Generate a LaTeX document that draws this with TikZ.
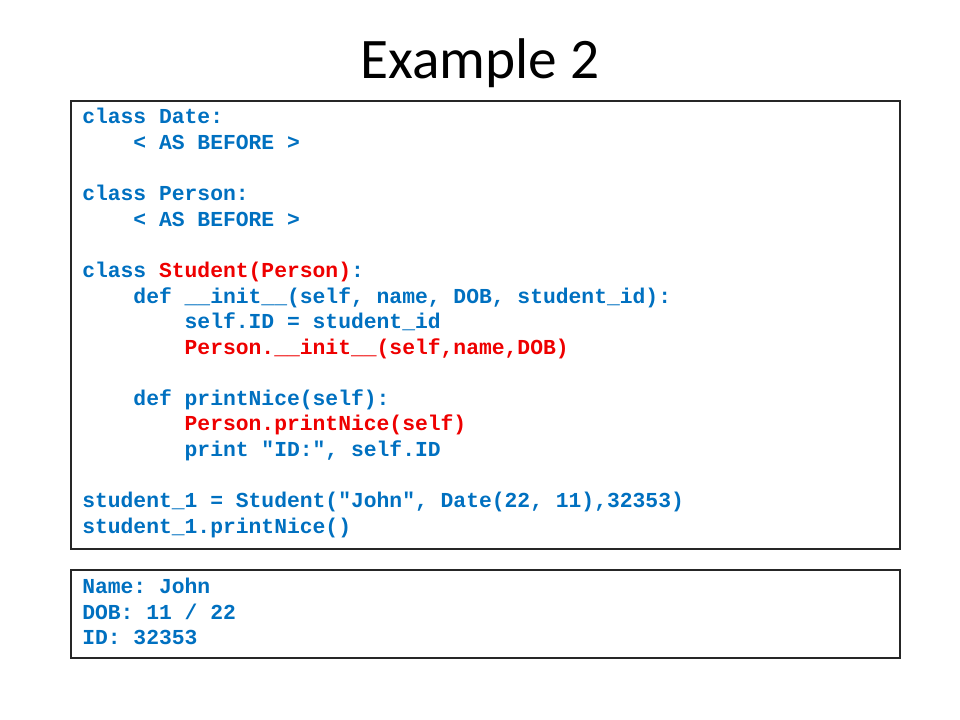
\documentclass[tikz,border=0pt]{standalone}
\usepackage{fontspec}
\setmainfont{Carlito}
\setmonofont{Liberation Mono}
\usetikzlibrary{positioning}
\definecolor{codeblue}{RGB}{0,112,192}
\definecolor{codered}{RGB}{238,0,0}
\tikzset{>=latex}
\tikzset{
	codeline/.style={anchor=base west, inner sep=0pt, text=codeblue, font=\fontsize{16pt}{19.2pt}\selectfont\ttfamily\bfseries},
	hl/.style={text=codered},
	box/.style={draw=black!85, line width=0.8pt}
}
\newcommand{\hot}[1]{{\color{codered}#1}}

\begin{document}
\begin{tikzpicture}[x=0.75pt, y=-0.75pt]
	
	\useasboundingbox (0,0) rectangle (960,720);
	
	\node[anchor=base, inner sep=0pt, font=\fontsize{43pt}{50pt}\selectfont](title) at (480,79) {Example 2};
	
	% Boxes
	
	\draw[box] (71,101) rectangle (900,549);
	\draw[box] (71,570) rectangle (900,658);
	
	% Code
	
	\node[codeline](classDate) at (82,124) {class Date:};
	
	\node[codeline](asBefore-1) at (133.2,149.6) {< AS BEFORE >};
	
	\node[codeline](classPerson) at (82,200.7) {class Person:};
	
	\node[codeline](asBefore-2) at (133.2,226.3) {< AS BEFORE >};
	
	\node[codeline](classStudent) at (82,277.4) {class \hot{Student(Person)}:};
	
	\node[codeline](defInit) at (133.2,303) {def \_\_init\_\_(self, name, DOB, student\_id):};
	
	\node[codeline](selfID) at (184.4,328.6) {self.ID = student\_id};
	
	\node[codeline, hl](personInit) at (184.4,354.1) {Person.\_\_init\_\_(self,name,DOB)};
	
	\node[codeline](defPrintNice) at (133.2,405.2) {def printNice(self):};
	
	\node[codeline, hl](personPrintNice) at (184.4,430.8) {Person.printNice(self)};
	
	\node[codeline](printID) at (184.4,456.4) {print "ID:", self.ID};
	
	\node[codeline](student-1) at (82,507.5) {student\_1 = Student("John", Date(22, 11),32353)};
	
	\node[codeline](student-2) at (82,533) {student\_1.printNice()};
	
	% Output
	
	\node[codeline](outName) at (82,593.5) {Name: John};
	
	\node[codeline](outDOB) at (82,619) {DOB: 11 / 22};
	
	\node[codeline](outID) at (82,644.5) {ID: 32353};
	
\end{tikzpicture}
\end{document}
